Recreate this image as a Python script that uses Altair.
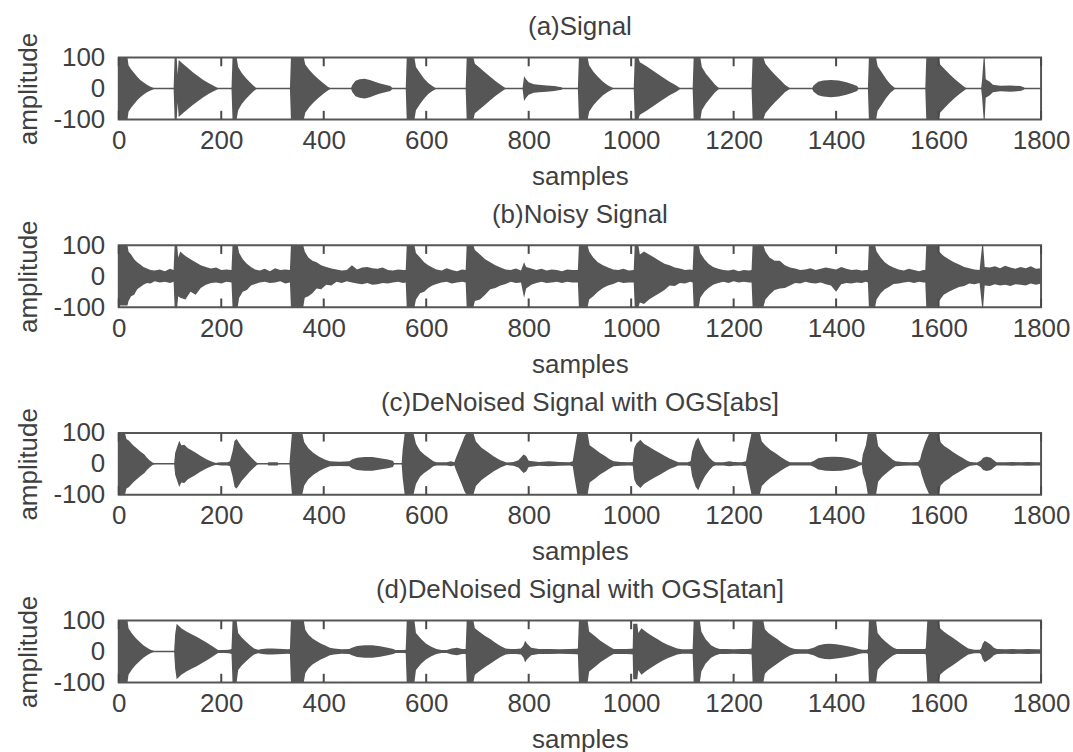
import altair as alt
import pandas as pd

# ---------------- data ----------------
X_TICKS = [0, 200, 400, 600, 800, 1000, 1200, 1400, 1600, 1800]
Y_TICKS = [-100, 0, 100]
TITLES = [
    "(a)Signal",
    "(b)Noisy Signal",
    "(c)DeNoised Signal with OGS[abs]",
    "(d)DeNoised Signal with OGS[atan]",
]

# (sample, envelope amplitude) - clean signal
SIGNAL_ENV = [
    (0, 100), (17, 100), (19, 75), (24, 62), (30, 50), (36, 38), (42, 28), (48, 20), (55, 12), (62, 6), (68, 2), (72, 0),
    (107, 0), (109, 100), (113, 100), (115, 45), (117, 92), (125, 80), (135, 66), (145, 52), (155, 40), (165, 28), (175, 18), (185, 9), (193, 2), (196, 0),
    (220, 0), (222, 100), (230, 100), (233, 70), (240, 50), (248, 34), (256, 20), (263, 9), (268, 2), (271, 0),
    (334, 0), (336, 100), (361, 100), (364, 78), (372, 60), (380, 45), (390, 30), (400, 16), (408, 6), (414, 0),
    (453, 0), (456, 12), (462, 25), (470, 30), (480, 32), (490, 28), (500, 22), (510, 16), (520, 12), (530, 8), (535, 0),
    (560, 0), (562, 100), (577, 100), (580, 70), (588, 50), (596, 32), (604, 18), (612, 8), (618, 2), (621, 0),
    (677, 0), (679, 100), (692, 100), (695, 80), (705, 66), (715, 52), (725, 38), (735, 24), (745, 12), (753, 3), (756, 0),
    (788, 0), (791, 40), (795, 30), (800, 20), (810, 14), (820, 12), (835, 10), (850, 8), (864, 4), (867, 0),
    (896, 0), (898, 100), (915, 100), (918, 75), (926, 55), (935, 38), (945, 22), (955, 10), (963, 3), (966, 0),
    (1005, 0), (1007, 100), (1014, 100), (1017, 85), (1030, 72), (1045, 55), (1060, 38), (1075, 22), (1088, 10), (1095, 2), (1098, 0),
    (1120, 0), (1122, 100), (1135, 100), (1138, 70), (1146, 48), (1155, 30), (1163, 14), (1170, 3), (1173, 0),
    (1235, 0), (1237, 100), (1258, 100), (1262, 80), (1272, 60), (1282, 42), (1292, 26), (1300, 12), (1308, 3), (1311, 0),
    (1353, 0), (1356, 10), (1365, 22), (1375, 26), (1390, 28), (1405, 26), (1420, 20), (1432, 14), (1441, 8), (1444, 0),
    (1462, 0), (1464, 100), (1478, 100), (1481, 72), (1490, 50), (1498, 30), (1506, 14), (1513, 4), (1516, 0),
    (1574, 0), (1576, 100), (1600, 100), (1603, 78), (1612, 62), (1622, 45), (1632, 30), (1642, 16), (1650, 6), (1655, 0),
    (1683, 0), (1685, 30), (1688, 100), (1690, 100), (1692, 30), (1700, 22), (1706, 12), (1720, 9), (1740, 10), (1760, 8), (1766, 4), (1769, 0),
    (1800, 0),
]

# (sample, upper envelope, lower envelope magnitude) - noisy signal
NOISY_ENV = [
    (0, 100, 95), (17, 100, 95), (19, 80, 80), (24, 70, 65), (30, 55, 60), (36, 45, 42), (42, 38, 35), (48, 30, 28), (55, 25, 22), (62, 20, 24), (70, 18, 16), (80, 22, 20), (90, 16, 18), (100, 24, 22),
    (107, 20, 18), (109, 100, 100), (114, 100, 100), (116, 60, 65), (120, 80, 70), (130, 65, 75), (140, 55, 50), (150, 45, 60), (160, 35, 38), (170, 30, 28), (180, 25, 22), (190, 28, 20), (200, 20, 24), (210, 22, 18),
    (220, 20, 20), (222, 100, 100), (232, 100, 100), (235, 75, 70), (242, 55, 50), (250, 40, 45), (258, 30, 30), (266, 22, 25), (275, 18, 20), (285, 24, 18), (295, 16, 22), (305, 26, 20), (315, 20, 16), (325, 22, 24),
    (334, 20, 20), (336, 100, 100), (360, 100, 100), (363, 80, 70), (370, 60, 65), (378, 50, 55), (386, 45, 40), (395, 35, 42), (405, 30, 28), (415, 25, 30), (425, 22, 18), (435, 18, 22), (445, 20, 16), (455, 35, 20), (465, 22, 24), (475, 28, 26), (485, 30, 22), (495, 26, 28), (505, 24, 26), (515, 28, 22), (525, 20, 24), (535, 18, 20), (545, 22, 18), (555, 20, 22),
    (560, 20, 20), (562, 100, 100), (577, 100, 100), (580, 75, 75), (588, 60, 55), (596, 45, 50), (604, 35, 38), (612, 28, 30), (620, 22, 25), (630, 18, 20), (640, 26, 18), (650, 20, 24), (660, 16, 20), (670, 22, 18),
    (677, 20, 20), (679, 100, 100), (692, 100, 100), (695, 85, 80), (705, 70, 75), (715, 55, 60), (725, 45, 42), (735, 35, 38), (745, 28, 30), (755, 22, 25), (765, 20, 18), (775, 25, 22), (785, 18, 20),
    (791, 45, 70), (795, 30, 40), (805, 25, 28), (815, 20, 22), (825, 24, 18), (835, 18, 22), (845, 22, 20), (855, 20, 18), (865, 16, 22), (875, 22, 18), (885, 20, 20),
    (896, 20, 20), (898, 100, 100), (915, 100, 100), (918, 80, 75), (926, 60, 65), (935, 45, 50), (945, 35, 38), (955, 28, 30), (965, 22, 25), (975, 20, 18), (985, 24, 22), (995, 18, 20),
    (1005, 20, 20), (1007, 100, 100), (1014, 100, 100), (1017, 70, 85), (1025, 80, 90), (1035, 70, 75), (1045, 60, 65), (1055, 50, 55), (1065, 40, 45), (1075, 35, 30), (1085, 28, 32), (1095, 25, 22), (1105, 20, 24), (1115, 22, 18),
    (1120, 20, 20), (1122, 100, 100), (1132, 100, 100), (1135, 75, 70), (1143, 55, 50), (1151, 40, 38), (1160, 30, 28), (1170, 24, 22), (1180, 20, 18), (1190, 18, 22), (1200, 22, 16), (1210, 16, 20), (1220, 20, 18), (1230, 18, 20),
    (1235, 20, 20), (1237, 100, 100), (1258, 100, 100), (1262, 80, 75), (1270, 60, 60), (1280, 50, 45), (1290, 50, 40), (1300, 35, 38), (1310, 28, 30), (1320, 25, 22), (1330, 20, 24), (1340, 22, 18), (1350, 26, 22), (1360, 20, 24), (1370, 24, 20), (1380, 28, 26), (1390, 25, 30), (1400, 22, 50), (1410, 30, 26), (1420, 24, 22), (1430, 20, 24), (1440, 22, 20), (1450, 18, 22), (1458, 20, 18),
    (1462, 20, 20), (1464, 100, 100), (1476, 100, 100), (1479, 80, 75), (1487, 60, 55), (1495, 45, 42), (1503, 35, 35), (1512, 28, 25), (1522, 22, 24), (1532, 18, 20), (1542, 24, 18), (1552, 20, 22), (1562, 16, 18), (1570, 20, 20),
    (1574, 20, 20), (1576, 100, 100), (1598, 100, 100), (1601, 80, 80), (1610, 65, 60), (1620, 55, 50), (1630, 45, 42), (1640, 38, 35), (1650, 30, 32), (1660, 26, 24), (1670, 22, 26), (1680, 20, 22),
    (1685, 100, 100), (1687, 100, 100), (1690, 30, 30), (1700, 28, 32), (1710, 32, 26), (1720, 26, 30), (1730, 34, 28), (1740, 28, 32), (1750, 24, 26), (1760, 30, 28), (1770, 26, 30), (1780, 32, 24), (1790, 24, 28), (1800, 26, 24),
]

# (sample, envelope amplitude) - denoised with OGS[abs]
OGS_ABS_ENV = [
    (0, 100), (12, 100), (15, 80), (20, 75), (28, 60), (35, 50), (42, 40), (50, 30), (55, 20), (60, 12), (66, 4), (72, 0),
    (108, 0), (110, 35), (114, 55), (118, 75), (122, 60), (128, 62), (135, 50), (148, 38), (160, 25), (172, 14), (182, 7), (190, 3), (193, 4), (200, 5), (212, 5),
    (217, 8), (222, 40), (226, 75), (230, 80), (234, 70), (240, 55), (248, 40), (256, 25), (264, 12), (270, 3), (273, 0),
    (290, 0), (292, 5), (310, 5), (312, 0),
    (333, 0), (335, 40), (338, 100), (358, 100), (362, 70), (370, 50), (380, 35), (392, 22), (402, 14), (412, 8), (430, 7), (450, 8),
    (455, 14), (465, 20), (480, 22), (495, 22), (510, 18), (525, 14), (535, 10), (538, 0),
    (552, 0), (554, 45), (558, 100), (575, 100), (580, 65), (588, 42), (596, 30), (606, 18), (614, 8), (620, 5), (640, 5), (648, 8), (655, 5),
    (658, 20), (668, 60), (675, 90), (679, 100), (692, 100), (697, 72), (708, 52), (720, 38), (732, 24), (745, 12), (757, 4),
    (770, 6), (780, 12), (790, 30), (795, 25), (800, 10), (820, 6), (840, 8), (860, 6), (880, 5),
    (886, 8), (889, 40), (895, 100), (915, 100), (919, 60), (929, 48), (940, 34), (949, 25), (958, 15), (966, 8),
    (980, 6), (995, 5), (1003, 6),
    (1006, 50), (1010, 65), (1018, 78), (1025, 65), (1035, 55), (1045, 45), (1055, 36), (1065, 26), (1075, 17), (1085, 10), (1092, 5), (1110, 5),
    (1116, 8), (1119, 40), (1126, 75), (1131, 85), (1136, 65), (1144, 40), (1153, 20), (1160, 8), (1165, 5),
    (1180, 5), (1192, 8), (1200, 6), (1215, 5),
    (1224, 8), (1228, 45), (1235, 100), (1251, 100), (1255, 72), (1263, 58), (1272, 45), (1282, 34), (1292, 22), (1302, 12), (1310, 5),
    (1330, 5), (1350, 5),
    (1357, 10), (1365, 18), (1380, 22), (1395, 23), (1410, 22), (1425, 18), (1438, 12), (1445, 6), (1450, 4),
    (1452, 30), (1458, 60), (1462, 100), (1478, 100), (1482, 58), (1490, 42), (1502, 25), (1510, 14), (1516, 8), (1530, 6), (1545, 5), (1560, 6),
    (1564, 15), (1567, 35), (1574, 70), (1582, 100), (1600, 100), (1604, 70), (1611, 58), (1620, 48), (1628, 38), (1638, 28), (1648, 18), (1656, 10), (1662, 6), (1675, 4),
    (1682, 10), (1687, 20), (1694, 23), (1702, 20), (1708, 12), (1713, 5), (1730, 5), (1745, 6), (1760, 5), (1775, 6), (1790, 5), (1800, 5),
]

# (sample, envelope amplitude) - denoised with OGS[atan]
OGS_ATAN_ENV = [
    (0, 100), (17, 100), (19, 75), (25, 60), (32, 45), (40, 32), (48, 20), (56, 11), (63, 5), (68, 2), (72, 0),
    (108, 0), (110, 55), (113, 90), (116, 85), (122, 75), (132, 65), (142, 56), (152, 48), (162, 38), (172, 28), (182, 18), (190, 9), (194, 5), (205, 5), (215, 6),
    (220, 8), (222, 100), (230, 100), (233, 60), (240, 45), (248, 32), (256, 20), (264, 10), (272, 6), (280, 8),
    (290, 10), (300, 10), (310, 9), (320, 8), (330, 7),
    (334, 8), (336, 100), (361, 100), (364, 70), (370, 55), (378, 42), (385, 35), (395, 25), (402, 20), (412, 12), (420, 10), (435, 7), (450, 8),
    (455, 12), (465, 18), (480, 20), (495, 20), (510, 17), (525, 12), (536, 8), (540, 5), (555, 5),
    (560, 6), (562, 100), (577, 100), (580, 60), (590, 40), (600, 25), (610, 15), (620, 8), (630, 5), (640, 5), (650, 10), (660, 12), (670, 8),
    (677, 8), (679, 100), (692, 100), (695, 75), (705, 62), (715, 50), (725, 40), (735, 28), (745, 18), (755, 10), (765, 8), (775, 8), (785, 10),
    (790, 20), (793, 35), (797, 25), (805, 12), (820, 8), (840, 8), (860, 7), (880, 8), (893, 9),
    (896, 10), (898, 100), (915, 100), (918, 65), (929, 50), (940, 35), (949, 25), (958, 15), (966, 8), (975, 8), (990, 8), (1000, 9),
    (1003, 10), (1004, 90), (1012, 90), (1014, 60), (1020, 75), (1030, 62), (1041, 50), (1051, 40), (1061, 30), (1071, 22), (1081, 15), (1090, 10), (1100, 7), (1113, 7),
    (1120, 8), (1122, 100), (1134, 100), (1137, 65), (1145, 40), (1156, 20), (1165, 12), (1173, 8), (1185, 8), (1200, 7), (1215, 8), (1228, 8),
    (1235, 10), (1237, 100), (1258, 100), (1261, 72), (1268, 60), (1276, 50), (1285, 40), (1293, 30), (1302, 20), (1310, 13), (1319, 8), (1330, 7), (1345, 7),
    (1356, 12), (1366, 20), (1378, 24), (1388, 25), (1400, 23), (1412, 20), (1425, 16), (1436, 12), (1444, 8), (1452, 6), (1460, 6),
    (1462, 8), (1464, 100), (1478, 100), (1481, 60), (1488, 45), (1496, 32), (1505, 20), (1512, 12), (1518, 8), (1530, 8), (1545, 8), (1560, 8), (1572, 8),
    (1575, 10), (1578, 100), (1600, 100), (1603, 75), (1610, 65), (1618, 55), (1627, 45), (1636, 35), (1644, 25), (1652, 16), (1658, 10), (1670, 6), (1680, 6),
    (1683, 10), (1686, 25), (1690, 35), (1695, 30), (1702, 22), (1708, 12), (1714, 8), (1730, 7), (1745, 8), (1760, 7), (1775, 8), (1790, 7), (1800, 7),
]

# ---------------- styling ----------------
INK = "#565656"
TEXT = "#3f3f3f"
FONT = "Liberation Sans"
FS = 26
TICK_LEN = 28  # inward tick length, in amplitude units

xscale = alt.Scale(domain=[0, 1800], nice=False, zero=False)
yscale = alt.Scale(domain=[-100, 100], nice=False, zero=False)

xaxis = alt.Axis(values=X_TICKS, title="samples", labelExpr="'' + datum.value", ticks=False, domain=False, grid=False,
                 labelFontSize=FS, titleFontSize=FS, labelFont=FONT, titleFont=FONT,
                 labelColor=TEXT, titleColor=TEXT, titleFontWeight="normal",
                 labelPadding=8, titlePadding=10, labelFlush=False, labelOverlap=False)
yaxis = alt.Axis(values=Y_TICKS, title="amplitude", labelExpr="'' + datum.value", ticks=False, domain=False, grid=False,
                 labelFontSize=FS, titleFontSize=FS, labelFont=FONT, titleFont=FONT,
                 labelColor=TEXT, titleColor=TEXT, titleFontWeight="normal",
                 labelPadding=14, titlePadding=11, labelFlush=False, labelOverlap=False)

# inward tick marks (Matlab style), placed at the tick values through the scales
tick_rows = []
for t in X_TICKS:
    tick_rows.append({"tk": t, "ta": 100, "tb": 100 - TICK_LEN})
    tick_rows.append({"tk": t, "ta": -100, "tb": -100 + TICK_LEN})
TICK_DF = pd.DataFrame(tick_rows)


def panel(env, title, asym=False):
    if asym:
        df = pd.DataFrame(env, columns=["s", "hi", "lomag"])
        df["lo"] = -df["lomag"]
    else:
        df = pd.DataFrame(env, columns=["s", "amp"])
        df["hi"] = df["amp"]
        df["lo"] = -df["amp"]
    wave = alt.Chart(df).mark_area(color=INK, opacity=1, interpolate="linear").encode(
        x=alt.X("s:Q", scale=xscale, axis=xaxis),
        y=alt.Y("hi:Q", scale=yscale, axis=yaxis),
        y2="lo:Q",
    )
    zero = alt.Chart(pd.DataFrame({"v": [0]})).mark_rule(color=INK, strokeWidth=1.5).encode(
        y=alt.Y("v:Q", scale=yscale, axis=yaxis)
    )
    ticks = alt.Chart(TICK_DF).mark_rule(color="#4a4a4a", strokeWidth=2).encode(
        x=alt.X("tk:Q", scale=xscale, axis=xaxis),
        y=alt.Y("ta:Q", scale=yscale, axis=yaxis),
        y2=alt.Y2("tb:Q"),
    )
    return alt.layer(zero, wave, ticks).properties(
        width=924, height=62,
        title=alt.TitleParams(title, fontSize=FS, font=FONT, color=TEXT, fontWeight="normal",
                              offset=-8, anchor="middle"),
    )


chart = alt.vconcat(
    panel(SIGNAL_ENV, TITLES[0]),
    panel(NOISY_ENV, TITLES[1], asym=True),
    panel(OGS_ABS_ENV, TITLES[2]),
    panel(OGS_ATAN_ENV, TITLES[3]),
    spacing=10,
).properties(
    padding={"left": 14, "top": 12, "right": 2, "bottom": 2},
    background="white",
).configure_view(stroke=INK, strokeWidth=2)

chart.save("out.html", embed_options={"renderer": "svg", "actions": False})
